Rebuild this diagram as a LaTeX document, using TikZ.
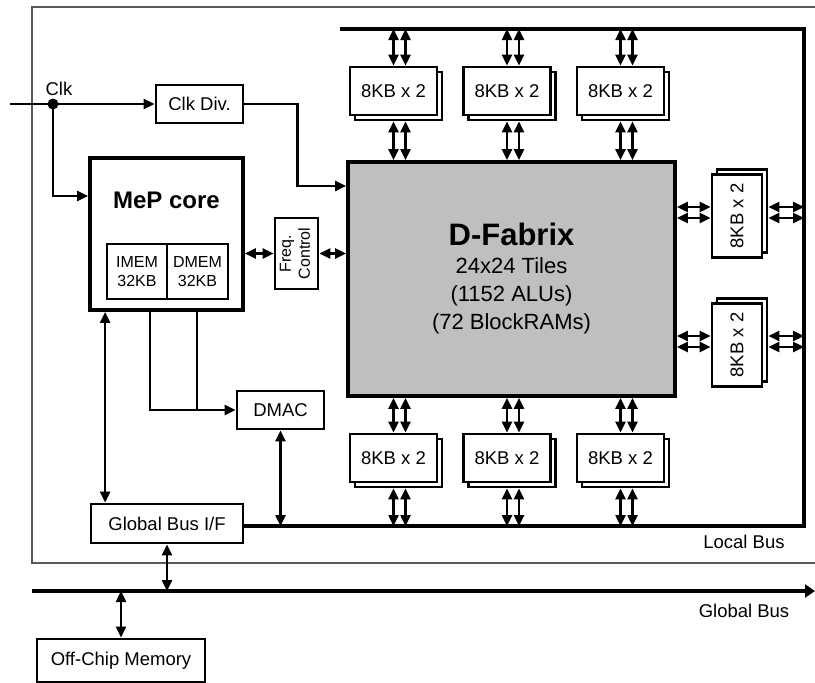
\documentclass[tikz,border=0pt]{standalone}
\usepackage{fontspec}
\setmainfont{Liberation Sans}
\usetikzlibrary{arrows.meta, positioning, calc}

\tikzset{
  blk/.style={draw, line width=2.8pt, fill=white, inner sep=0pt, align=center,
    font=\fontsize{18.5}{22}\selectfont},
  memblk/.style={blk, minimum width=87pt, minimum height=48pt},
  sideblk/.style={blk, minimum width=50pt, minimum height=83pt},
  cell/.style={blk, line width=2.4pt, outer sep=0pt, minimum width=60pt, minimum height=55pt,
    font=\fontsize{16}{19}\selectfont},
  link/.style={line width=2.4pt, -{Triangle[length=11pt,width=10pt]}},
  bilink/.style={line width=2.4pt, {Triangle[length=11pt,width=10pt]}-{Triangle[length=11pt,width=10pt]}},
  bus/.style={line width=3.8pt},
  lbl/.style={font=\fontsize{18.5}{22}\selectfont, inner sep=0pt},
}

\begin{document}
\begin{tikzpicture}[x=1pt, y=-1pt]
  \useasboundingbox (0,0) rectangle (815,683);
  % chip outline
  \draw[black!65, line width=1.2pt] (815,7) -- (32,7) -- (32,563) -- (815,563);

  % blocks
  \node[blk, minimum width=87pt, minimum height=38pt] (clkdiv) at (199.5,104) {Clk Div.};
  \node[blk, line width=3.8pt, minimum width=153pt, minimum height=152pt] (mep) at (166.5,234) {};
  \node[font=\fontsize{24}{28}\selectfont\bfseries] (meplbl) at (166.5,200) {MeP core};
  \node[cell] (imem) at (137,271.5) {IMEM\\32KB};
  \node[cell, minimum width=61pt, right=0pt of imem] (dmem) {DMEM\\32KB};
  \node[blk, line width=2.6pt, minimum width=43pt, minimum height=71pt,
    font=\fontsize{16}{19}\selectfont] (freq) at (296.5,253.5)
    {\rotatebox{90}{\begin{tabular}{@{}c@{}}Freq.\\Control\end{tabular}}};
  \node[draw, line width=3.8pt, fill=gray!50, minimum width=327pt, minimum height=234pt,
    align=center, font=\fontsize{22}{28}\selectfont] (fab) at (511.5,279)
    {{\fontsize{31}{34}\selectfont\bfseries D-Fabrix}\\24x24 Tiles\\(1152 ALUs)\\(72 BlockRAMs)};
  \node[blk, minimum width=87pt, minimum height=38pt] (dmac) at (280.5,410) {DMAC};
  \node[blk, minimum width=152pt, minimum height=39pt] (gbif) at (167,523.5) {Global Bus I/F};
  \node[blk, minimum width=168pt, minimum height=43pt] (offchip) at (121,660.5) {Off-Chip Memory};

  % memory banks (back copy first, then front)
  \foreach \n/\x in {t1/393.5, t2/507, t3/620.5} {
    \node[memblk] (\n back) at (\x+5,96) {};
    \node[memblk] (\n) at (\x,91) {8KB x 2};
  }
  \foreach \n/\x in {b1/393.5, b2/507, b3/620.5} {
    \node[memblk] (\n back) at (\x+5,463) {};
    \node[memblk] (\n) at (\x,458) {8KB x 2};
  }
  \foreach \n/\y in {r1/216, r2/345} {
    \node[sideblk] (\n back) at (742,\y-5) {};
    \node[sideblk] (\n) at (737,\y) {\rotatebox{90}{8KB x 2}};
  }

  % buses
  \coordinate (lbstart) at (340,29);
  \coordinate (lbne) at (804,29);
  \coordinate (lbse) at (804,526);
  \draw[bus] (lbstart) -- (lbne) -- (lbse) -- (lbse -| gbif.east);
  \coordinate (gbw) at (32,591);
  \coordinate (gbe) at (815,591);
  \draw[bus, line width=4.2pt, -{Triangle[length=10pt,width=13pt]}] (gbw) -- (gbe);
  \node[lbl] (lbtxt) at (744,542) {Local Bus};
  \node[lbl] (gbtxt) at (744,611) {Global Bus};

  % bank links
  \foreach \n in {t1,t2,t3} {
    \foreach \dx in {0,12} {
      \draw[bilink] ($(\n.north)+(\dx,0)$) -- ($(\n.north |- lbstart)+(\dx,0)$);
      \draw[bilink] ($(\n back.south)+(\dx-5,0)$) -- ($(\n.south |- fab.north)+(\dx,0)$);
    }
  }
  \foreach \n in {b1,b2,b3} {
    \foreach \dx in {0,12} {
      \draw[bilink] ($(\n.north |- fab.south)+(\dx,0)$) -- ($(\n.north)+(\dx,0)$);
      \draw[bilink] ($(\n back.south)+(\dx-5,0)$) -- ($(\n.south |- lbse)+(\dx,0)$);
    }
  }
  \foreach \n in {r1,r2} {
    \foreach \dy in {-9,2} {
      \draw[bilink] ($(\n.west -| fab.east)+(0,\dy)$) -- ($(\n.west)+(0,\dy)$);
      \draw[bilink] ($(\n back.east)+(0,\dy+5)$) -- ($(\n.east -| lbse)+(0,\dy)$);
    }
  }

  % clock
  \coordinate (clkin) at (10,104);
  \coordinate (clkdot) at (53,104);
  \draw[line width=2.4pt] (clkin) -- (clkdot);
  \fill (clkdot) circle (5.5pt);
  \node[lbl] (clklbl) at (59,89) {Clk};
  \draw[link] (clkdot) -- (clkdiv.west);
  \draw[link] (clkdot) |- ([yshift=38pt]mep.west);
  \draw[link] (clkdiv.east) -- ++(53,0) |- ([yshift=93pt]fab.west);

  % core links
  \draw[bilink] (freq.west) -- (freq.west -| mep.east);
  \draw[bilink] (freq.east) -- (freq.east -| fab.west);
  \coordinate (mepa) at ([xshift=17pt]mep.south west);
  \coordinate (mepb) at ([xshift=62pt]mep.south west);
  \coordinate (mepc) at ([xshift=109pt]mep.south west);
  \draw[bilink] (mepa) -- (mepa |- gbif.north);
  \draw[link] (mepb) |- (dmac.west);
  \draw[line width=2.4pt] (mepc) -- (mepc |- dmac.west);
  \draw[bilink] (dmac.south) -- (dmac.south |- lbse);
  \draw[bilink] (gbif.south) -- (gbif.south |- gbw);
  \draw[bilink] (offchip.north |- gbw) -- (offchip.north);
\end{tikzpicture}
\end{document}
